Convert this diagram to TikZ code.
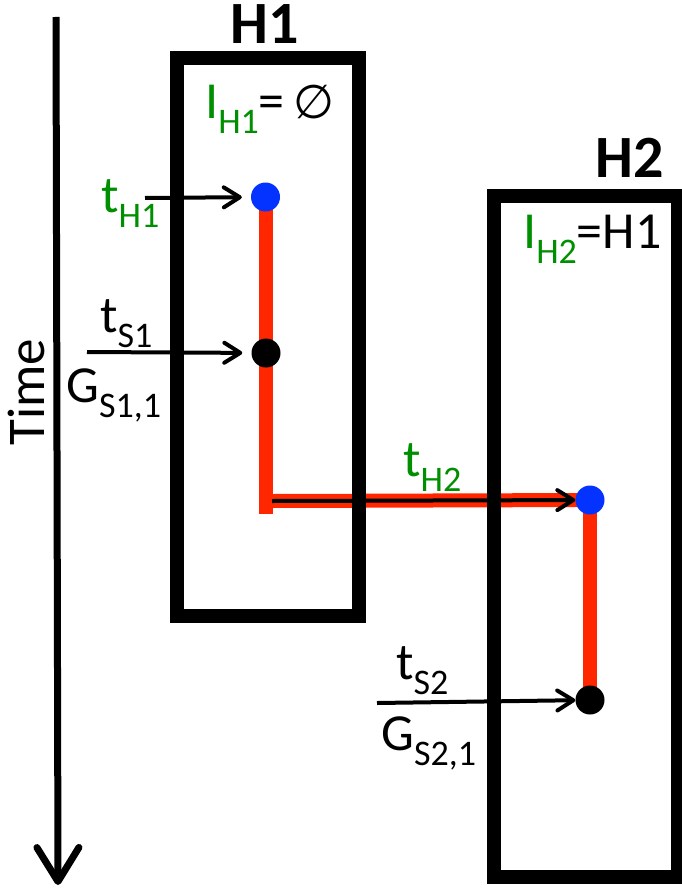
\documentclass[tikz,border=0pt]{standalone}
\usepackage{fontspec}
\setmainfont{Carlito}
\newfontfamily\symfont{DejaVu Sans}
\usetikzlibrary{arrows.meta, positioning, calc, backgrounds}
\definecolor{hgreen}{RGB}{0,143,0}
\definecolor{hred}{RGB}{255,38,0}
\definecolor{hblue}{RGB}{4,51,255}
\newcommand{\sublbl}[2]{#1\raisebox{-15pt}{\fontsize{36}{36}\selectfont #2}}

\begin{document}
\begin{tikzpicture}[
  x=1pt, y=-1pt,
  >={Straight Barb[length=16pt, width=20pt, round]},
  hbox/.style={draw, line width=14pt},
  hpath/.style={draw=hred, line width=14pt},
  tline/.style={draw, line width=4pt, ->},
  dot/.style={circle, inner sep=0pt, minimum size=29pt},
  lbl/.style={inner sep=0pt, anchor=base west, font=\fontsize{52}{58}\selectfont},
  title/.style={inner sep=0pt, anchor=base, font=\fontsize{60}{66}\selectfont\bfseries}
  ]
  \useasboundingbox (0,0) rectangle (681,888);

  % time axis
  \coordinate (T0) at (56,17);
  \coordinate (T1) at (58,885);
  \draw[line width=7pt, -{Straight Barb[length=34pt, width=42pt, round]}] (T0) -- (T1);
  \node[rotate=90, inner sep=0pt, font=\fontsize{53}{58}\selectfont] (time) at (26,392) {Time};

  % hosts
  \draw[hbox] (176.5,58) rectangle (358.5,615.5);
  \draw[hbox] (494,195.5) rectangle (678,877);
  \node[title] (H1) at (265,44) {H1};
  \node[title] (H2) at (630,177) {H2};
  \node[lbl] (IH1) at (205,118) {\textcolor{hgreen}{\sublbl{I}{H1}}=\,{\symfont\fontsize{47}{50}\selectfont ∅}};
  \node[lbl] (IH2) at (523,248) {\textcolor{hgreen}{\sublbl{I}{H2}}=H1};

  % events
  \node[dot, fill=hblue] (h1) at (265.5,197) {};
  \node[dot, fill=black] (s1) at (266,353) {};
  \node[dot, fill=hblue] (h2) at (590,500) {};
  \node[dot, fill=black] (s2) at (590,700) {};
  \coordinate (bend) at (265.5,514);
  \coordinate (hstart) at (272,501);

  \begin{scope}[on background layer]
    \draw[hpath] (h1.center) -- (bend);
    \draw[hpath] (hstart) -- (h2.center);
    \draw[hpath] (h2.center) -- (s2.center);
  \end{scope}

  % arrivals
  \coordinate (ath1) at (145,198);
  \coordinate (ats1) at (87,352);
  \coordinate (ats2) at (377,703);
  \draw[tline, shorten >=9pt] (ath1) -- (h1);
  \draw[tline, shorten >=9pt] (ats1) -- (s1);
  \draw[tline] (hstart) -- (h2);
  \draw[tline] (ats2) -- (s2);

  \node[lbl, hgreen] (th1) at (101,212) {\sublbl{t}{H1}};
  \node[lbl] (ts1) at (100,332) {\sublbl{t}{S1}};
  \node[lbl] (gs1) at (66,402) {\sublbl{G}{S1,1}};
  \node[lbl, hgreen] (th2) at (403,476) {\sublbl{t}{H2}};
  \node[lbl] (ts2) at (396,679) {\sublbl{t}{S2}};
  \node[lbl] (gs2) at (381,750) {\sublbl{G}{S2,1}};
\end{tikzpicture}
\end{document}
